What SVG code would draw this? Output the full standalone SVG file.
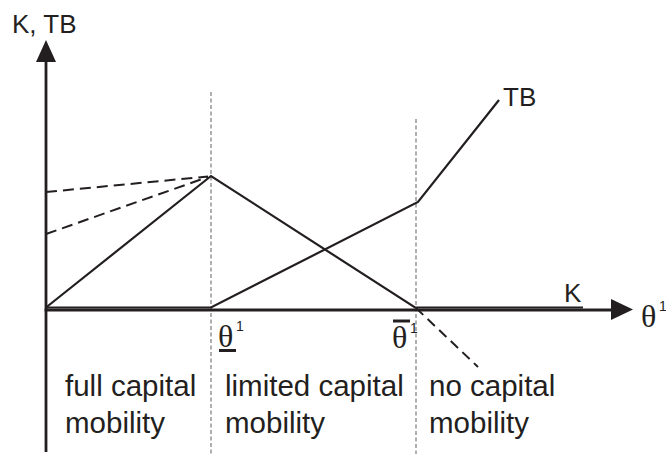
<svg xmlns="http://www.w3.org/2000/svg" width="666" height="454" viewBox="0 0 666 454">
<style>
.ln{fill:none;stroke:#231f20;stroke-width:2.2;stroke-linejoin:miter}
.ax{fill:none;stroke:#231f20;stroke-width:2.8}
.dsh{fill:none;stroke:#231f20;stroke-width:2;stroke-dasharray:11,6}
.guide{fill:none;stroke:#6d6e71;stroke-width:1.1;stroke-dasharray:4,2.5}
.t{font-family:"Liberation Sans",Arial,sans-serif;fill:#231f20}
.lab{font-size:26px}
.big{font-size:29.5px}
.th{font-family:"Liberation Serif","Times New Roman",serif;font-size:32px;fill:#231f20}
.sup{font-family:"Liberation Sans",Arial,sans-serif;font-size:14px;fill:#231f20}
.arrow{fill:#231f20}
</style>
<rect width="666" height="454" fill="#ffffff"/>
<g id="guides">
<line class="guide" x1="211" y1="92" x2="211" y2="454"/>
<line class="guide" x1="416" y1="119" x2="416" y2="454"/>
</g>
<g id="axes">
<line class="ax" x1="46" y1="452" x2="46" y2="58"/>
<polygon class="arrow" points="46,40 36,62 56,62"/>
<line class="ax" x1="44.6" y1="310" x2="614" y2="310"/>
<polygon class="arrow" points="633,309.5 611,299 611,320"/>
</g>
<g id="connectors">
<polyline class="ln" points="46,307.5 211,307.5 418,202 499,100"/>
<polyline class="ln" points="46,307.5 211,176 415,307.5 583,307.5"/>
<line class="dsh" x1="46" y1="192" x2="208" y2="176.5"/>
<line class="dsh" x1="46" y1="234" x2="208" y2="177"/>
<line class="dsh" x1="416" y1="308" x2="478" y2="367" style="stroke-dasharray:10,6"/>
</g>
<g id="labels">
<text class="t lab" x="12" y="33">K, TB</text>
<text class="t lab" x="503" y="106">TB</text>
<text class="t lab" x="564" y="302">K</text>
<text class="th" x="641" y="327">θ</text>
<text class="sup" x="659" y="311">1</text>
<text class="th" x="218" y="347">θ</text>
<text class="sup" x="236" y="331">1</text>
<line x1="219" y1="350.5" x2="236" y2="350.5" stroke="#231f20" stroke-width="3"/>
<text class="th" x="392" y="348">θ</text>
<text class="sup" x="410" y="333">1</text>
<line x1="393" y1="321" x2="410" y2="321" stroke="#231f20" stroke-width="3"/>
</g>
<g id="regions">
<text class="t big" x="65" y="396">full capital</text>
<text class="t big" x="65" y="433">mobility</text>
<text class="t big" x="225" y="396">limited capital</text>
<text class="t big" x="225" y="433">mobility</text>
<text class="t big" x="429" y="396">no capital</text>
<text class="t big" x="429" y="433">mobility</text>
</g>
</svg>
